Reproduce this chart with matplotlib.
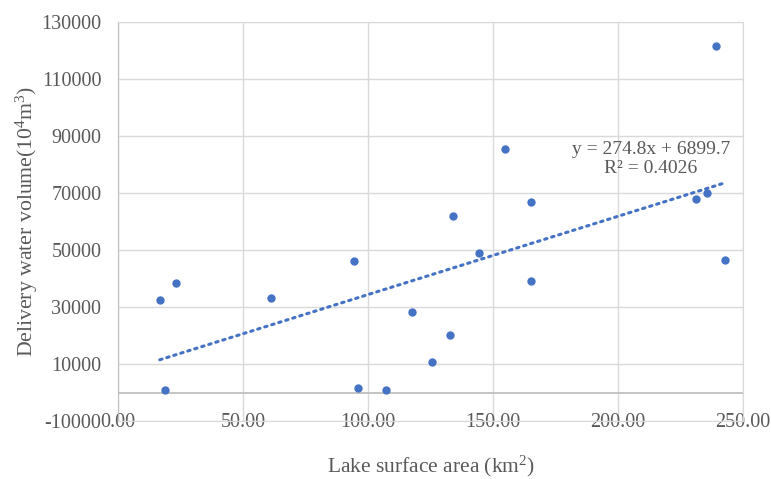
import numpy as np
import matplotlib
matplotlib.use("Agg")
import matplotlib.pyplot as plt

plt.rcParams['font.family'] = ['Liberation Serif', 'DejaVu Serif']
plt.rcParams['mathtext.fontset'] = 'custom'
plt.rcParams['mathtext.rm'] = 'Liberation Serif'

# lake surface area (km2) vs delivery water volume (10^4 m3)
area = [16.7, 18.8, 23.2, 61.3, 94.3, 96.0, 107.3, 117.7, 125.7, 132.9,
        133.8, 144.4, 154.8, 165.2, 165.0, 231.0, 235.4, 239.0, 242.6]
volume = [32600, 1050, 38300, 33200, 46200, 1500, 800, 28300, 10600, 20100,
          62000, 48900, 85300, 66800, 39000, 67800, 70100, 121700, 46600]

slope = 274.8
intercept = 6899.7
r2 = 0.4026

x_ticks = [0, 50, 100, 150, 200, 250]
y_ticks = [-10000, 10000, 30000, 50000, 70000, 90000, 110000, 130000]

blue = "#4472C4"

fig = plt.figure(figsize=(7.71, 4.79), dpi=100)
ax = fig.add_axes([0.153, 0.121, 0.811, 0.833])

# trendline over the data range
xs = np.array([min(area), max(area)])
ax.plot(xs, slope * xs + intercept, color=blue, linestyle=(0, (0.8, 1.6)),
        linewidth=2.2, dash_capstyle="round", zorder=3)

ax.scatter(area, volume, s=36, color=blue, zorder=4, linewidths=0)

ax.set_xlim(0, 250)
ax.set_ylim(-10000, 130000)
ax.set_xticks(x_ticks)
ax.set_xticklabels([f"{v:.2f}" for v in x_ticks])
ax.set_yticks(y_ticks)
ax.set_yticklabels([str(v) for v in y_ticks])

ax.grid(True, color="#D9D9D9", linewidth=1.0)
ax.set_axisbelow(True)
for side in ["top", "right", "bottom"]:
    ax.spines[side].set_color("#D9D9D9")
ax.spines["left"].set_color("#BFBFBF")
ax.axhline(0, color="#BFBFBF", linewidth=1.3, zorder=2)

ax.tick_params(length=0, labelsize=14.5, labelcolor="#595959")
ax.tick_params(axis="y", pad=12)
ax.tick_params(axis="x", pad=-6)

ax.text(213, 81800, f"y = {slope}x + {intercept}\nR² = {r2}",
        ha="center", va="center", fontsize=14, color="#595959",
        linespacing=1.15)

ax.set_xlabel("Lake surface area (km$\\mathregular{^2}$)", fontsize=15.5,
              color="#595959")
ax.xaxis.set_label_coords(0.5, -0.081)
ax.set_ylabel("Delivery water volume(10$\\mathregular{^4}$m$\\mathregular{^3}$)",
              fontsize=15.7, color="#595959")
ax.yaxis.set_label_coords(-0.124, 0.5)

fig.savefig("out.png", dpi=100)
